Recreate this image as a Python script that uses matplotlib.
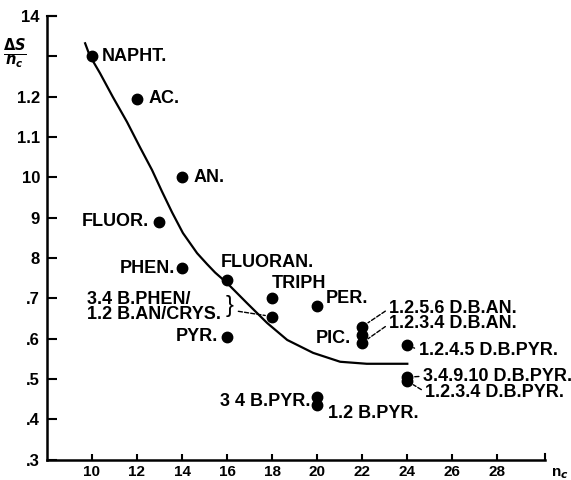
import numpy as np
import matplotlib
matplotlib.use("Agg")
import matplotlib.pyplot as plt

# ---------------------------------------------------------------- data
names = ["NAPHT.", "AC.", "AN.", "FLUOR.", "PHEN.", "FLUORAN.", "TRIPH",
         "3.4 B.PHEN", "PYR.", "PER.", "1.2.5.6 D.B.AN.", "1.2.3.4 D.B.AN.",
         "PIC.", "1.2.4.5 D.B.PYR.", "3.4.9.10 D.B.PYR.", "1.2.3.4 D.B.PYR.",
         "3 4 B.PYR.", "1.2 B.PYR."]
nc = [10, 12, 14, 13, 14, 16, 18, 18, 16, 20, 22, 22, 22, 24, 24, 24, 20, 20]
ds = [1.30, 1.195, 1.00, 0.89, 0.775, 0.745, 0.70, 0.655, 0.605, 0.68,
      0.63, 0.61, 0.59, 0.585, 0.505, 0.495, 0.455, 0.435]

# hand-drawn trend curve
curve_x = [9.7, 9.9, 10.36, 10.93, 11.56, 12.13, 12.67, 13.11, 13.56, 14.04,
           14.67, 15.11, 15.47, 16.0, 16.89, 17.78, 18.67, 19.82, 21.02,
           22.2, 24.0]
curve_y = [1.332, 1.302, 1.258, 1.199, 1.137, 1.075, 1.018, 0.965, 0.913,
           0.862, 0.812, 0.785, 0.764, 0.738, 0.688, 0.639, 0.597, 0.565,
           0.543, 0.538, 0.538]

xticks = [10, 12, 14, 16, 18, 20, 22, 24, 26, 28]
yticks = [0.3, 0.4, 0.5, 0.6, 0.7, 0.8, 0.9, 1.0, 1.1, 1.2, 1.3, 1.4]
ylabels = [".3", ".4", ".5", ".6", ".7", "8", "9", "10", "1.1", "1.2", "", "14"]

# label text, anchor (x, y), ha, leader-to-point index or None
labels = [
    ("NAPHT.", 10.45, 1.30, "left", None),
    ("AC.", 12.5, 1.195, "left", None),
    ("AN.", 14.5, 1.00, "left", None),
    ("FLUOR.", 12.55, 0.89, "right", None),
    ("PHEN.", 13.7, 0.775, "right", None),
    ("FLUORAN.", 15.7, 0.79, "left", None),
    ("TRIPH", 18.0, 0.738, "left", None),
    ("PER.", 20.4, 0.70, "left", None),
    ("3.4 B.PHEN/", 9.8, 0.697, "left", None),
    ("1.2 B.AN/CRYS.", 9.8, 0.659, "left", None),
    ("PYR.", 15.6, 0.605, "right", None),
    ("PIC.", 21.5, 0.60, "right", None),
    ("1.2.5.6 D.B.AN.", 23.2, 0.675, "left", 10),
    ("1.2.3.4 D.B.AN.", 23.2, 0.637, "left", 12),
    ("1.2.4.5 D.B.PYR.", 24.5, 0.572, "left", 13),
    ("3.4.9.10 D.B.PYR.", 24.7, 0.507, "left", 14),
    ("1.2.3.4 D.B.PYR.", 24.8, 0.468, "left", 15),
    ("3 4 B.PYR.", 19.7, 0.444, "right", None),
    ("1.2 B.PYR.", 20.5, 0.416, "left", None),
]

# ---------------------------------------------------------------- style
plt.rcParams.update({
    "font.family": ["Liberation Sans", "DejaVu Sans"],
    "font.weight": "bold",
    "font.size": 13,
    "mathtext.fontset": "dejavusans",
})
INK = "black"

fig = plt.figure(figsize=(5.71, 4.80), dpi=100)
ax = fig.add_axes([0.082, 0.042, 0.872, 0.925])

ax.plot(curve_x, curve_y, color=INK, lw=1.6, zorder=2,
        solid_joinstyle="round")
ax.plot(nc, ds, "o", color=INK, ms=7.5, zorder=3, clip_on=False)

for txt, x, y, ha, idx in labels:
    if idx is None:
        ax.text(x, y, txt, ha=ha, va="center", color=INK)
    else:
        ax.annotate(txt, xy=(nc[idx], ds[idx]), xytext=(x, y), ha=ha,
                    va="center", color=INK,
                    arrowprops=dict(arrowstyle="-", ls=(0, (3, 1.5)), lw=1.0,
                                    color=INK, shrinkA=1, shrinkB=5,
                                    relpos=(0, 0.5)))

# brace joining the two-line label to the point at (18, .655)
ax.text(15.95, 0.680, "}", ha="left", va="center", fontsize=17,
        fontweight="normal", color=INK)
ax.annotate("", xy=(nc[7], ds[7]), xytext=(16.5, 0.668),
            arrowprops=dict(arrowstyle="-", ls=(0, (3, 1.5)), lw=1.0,
                            color=INK, shrinkA=0, shrinkB=5))

# ---------------------------------------------------------------- axes
ax.set_xlim(8, 30.1)
ax.set_ylim(0.3, 1.4)
for s in ("top", "right"):
    ax.spines[s].set_visible(False)
for s in ("left", "bottom"):
    ax.spines[s].set_linewidth(1.8)

ax.set_xticks(xticks)
ax.set_yticks(yticks)
ax.set_yticklabels(ylabels)
ax.tick_params(axis="y", direction="in", length=7, width=1.5, pad=5,
               labelsize=12)
ax.tick_params(axis="x", direction="in", length=4, width=1.5, pad=4,
               labelsize=11)

# closing ticks at the axis ends
ax.plot([8, 8.4], [1.4, 1.4], color=INK, lw=1.5, clip_on=False)
ax.plot([30.1, 30.1], [0.3, 0.315], color=INK, lw=1.5, clip_on=False)

ax.text(-0.088, 0.915, r"$\frac{\Delta S}{n_c}$", transform=ax.transAxes,
        ha="left", va="center", fontsize=15, color=INK)
ax.text(1.012, -0.032, r"n$_c$", transform=ax.transAxes, ha="left",
        va="center", fontsize=11, color=INK)

fig.savefig("out.png", dpi=100)
